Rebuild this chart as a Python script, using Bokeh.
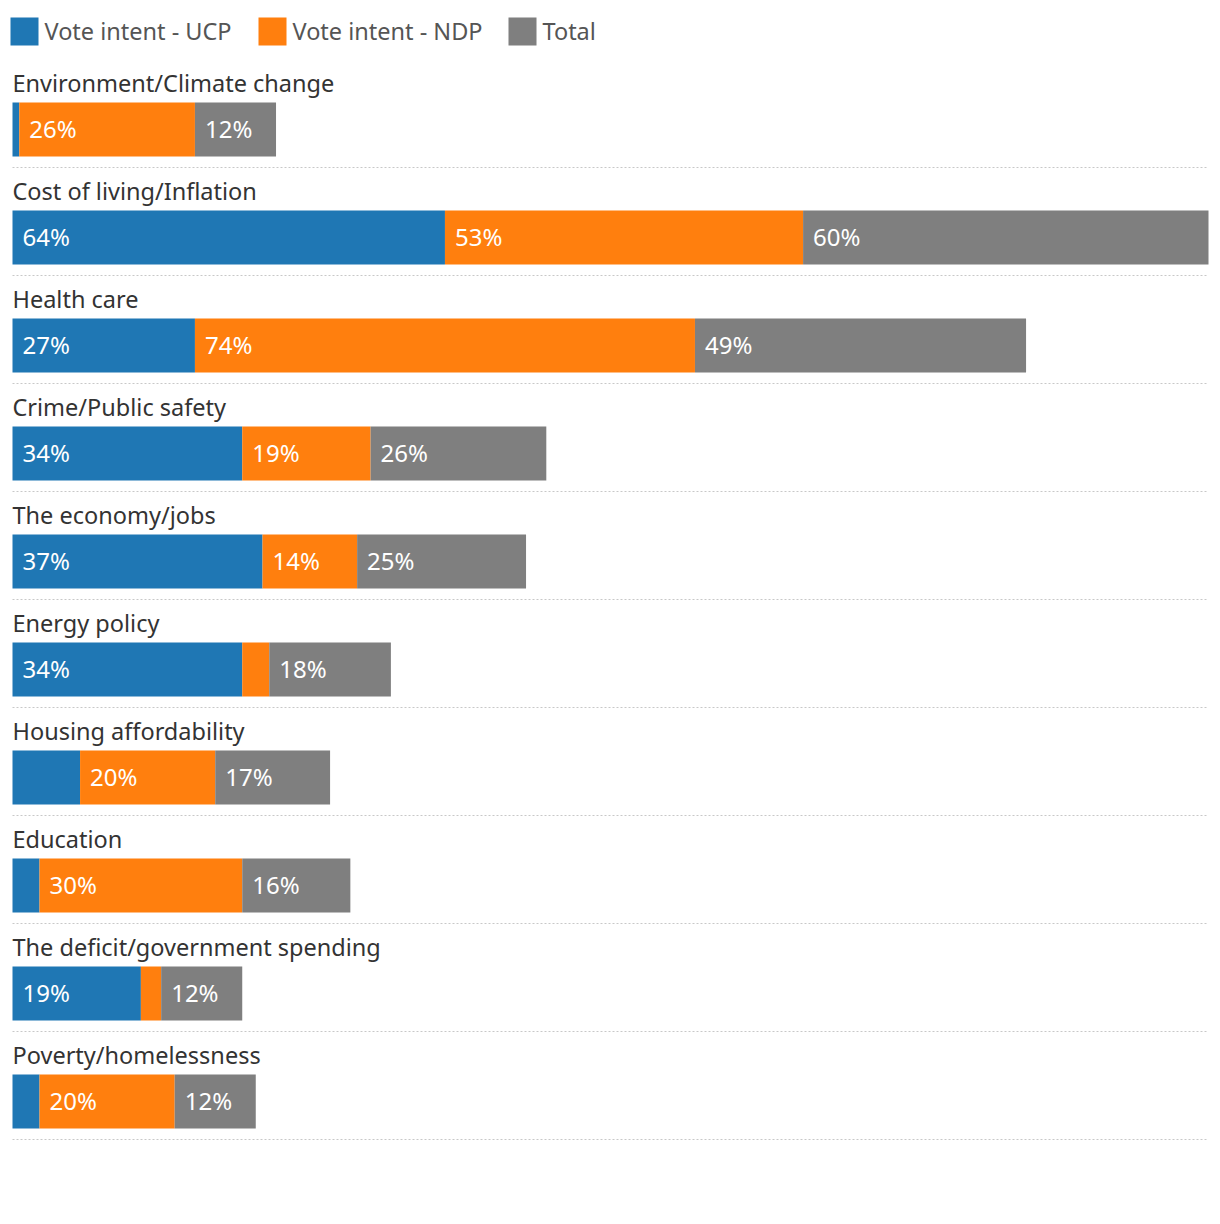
from bokeh.plotting import figure
from bokeh.models import Range1d, ColumnDataSource
from bokeh.embed import file_html
from bokeh.resources import INLINE
from bokeh.core.properties import value

# ---------------- data ----------------
categories = [
    "Environment/Climate change",
    "Cost of living/Inflation",
    "Health care",
    "Crime/Public safety",
    "The economy/jobs",
    "Energy policy",
    "Housing affordability",
    "Education",
    "The deficit/government spending",
    "Poverty/homelessness",
]
ucp = [1, 64, 27, 34, 37, 34, 10, 4, 19, 4]
ndp = [26, 53, 74, 19, 14, 4, 20, 30, 3, 20]
total = [12, 60, 49, 26, 25, 18, 17, 16, 12, 12]
series_names = ["Vote intent - UCP", "Vote intent - NDP", "Total"]
colors = ["#1f77b4", "#ff7f0e", "#7f7f7f"]
label_min = 12

# ---------------- layout ----------------
FONT = "Noto Sans"
W, H = 1212, 1216
PAD_L, PAD_R = 12, 4          # px between figure edge and bar zero / max
ROW_TOP0, ROW_H = 59, 108     # px
LABEL_DY, BAR_DY, BAR_H = 23.5, 43, 54
LEGEND_Y = 31

max_total = max(u + n + t for u, n, t in zip(ucp, ndp, total))
scale = (W - PAD_L - PAD_R) / max_total   # px per percent

p = figure(width=W, height=H, output_backend="svg", toolbar_location=None,
           x_range=Range1d(-PAD_L / scale, max_total + PAD_R / scale),
           y_range=Range1d(H, 0), min_border=0)
p.axis.visible = False
p.grid.visible = False
p.outline_line_color = None
p.background_fill_color = "white"
p.border_fill_color = "white"

n = len(categories)
row_tops = [ROW_TOP0 + ROW_H * i for i in range(n)]
bar_y = [t + BAR_DY + BAR_H / 2 for t in row_tops]
label_y = [t + LABEL_DY for t in row_tops]
sep_y = [t + ROW_H for t in row_tops]

# separators
p.segment(x0=[0] * n, x1=[max_total] * n, y0=sep_y, y1=sep_y,
          line_color="#c8c8c8", line_width=1, line_dash="2 2")

# stacked bars
lefts = [0] * n
for vals, col in zip([ucp, ndp, total], colors):
    rights = [l + v for l, v in zip(lefts, vals)]
    src = ColumnDataSource(dict(y=bar_y, left=lefts, right=rights,
                                lab=[f"{v}%" if v >= label_min else "" for v in vals]))
    p.hbar(y="y", left="left", right="right", height=BAR_H, source=src,
           fill_color=col, line_color=None)
    p.text(x="left", y="y", text="lab", source=src, x_offset=10, y_offset=-1,
           text_baseline="middle", text_align="left", text_color="white",
           text_font=value(FONT), text_font_size="24px")
    lefts = rights

# category labels
p.text(x=[0] * n, y=label_y, text=categories, x_offset=0,
       text_baseline="middle", text_align="left", text_color="#333333",
       text_font=value(FONT), text_font_size="23.5px")

# legend
leg_sq_px = [24, 272, 522]
leg_x = [(px - PAD_L) / scale for px in leg_sq_px]
p.rect(x=leg_x, y=[LEGEND_Y] * 3, width=28, height=28,
       width_units="screen", height_units="screen",
       fill_color=colors, line_color=None)
p.text(x=leg_x, y=[LEGEND_Y] * 3, text=series_names, x_offset=20, y_offset=-1,
       text_baseline="middle", text_align="left", text_color="#555555",
       text_font=value(FONT), text_font_size="23.5px")

open("out.html", "w").write(file_html(p, INLINE))
